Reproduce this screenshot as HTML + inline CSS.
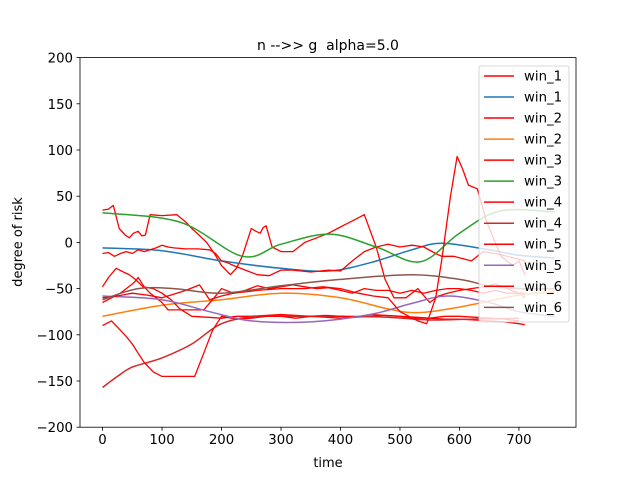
<!DOCTYPE html>
<html><head><meta charset="utf-8"><style>
body{margin:0;background:#fff}
svg{display:block;font-family:"DejaVu Sans","Liberation Sans",sans-serif}
</style></head><body>
<svg id="chart" width="640" height="480" viewBox="0 0 640 480" xmlns="http://www.w3.org/2000/svg">
<rect width="640" height="480" fill="#fff"/>
<text x="328" y="50" font-size="14" text-anchor="middle" style="white-space:pre">n --&gt;&gt; g&#160;&#160;alpha=5.0</text>
<text x="328" y="467" font-size="13" text-anchor="middle">time</text>
<text transform="translate(22,242) rotate(-90)" font-size="13" text-anchor="middle">degree of risk</text>
<g id="plot"></g>
<g id="axes"></g>
<g id="legend"></g>
</svg>
<script>
const xTicks=[0,100,200,300,400,500,600,700];
const yTicks=[-200,-150,-100,-50,0,50,100,150,200];
const seriesNames=["win_1","win_1","win_2","win_2","win_3","win_3","win_4","win_4","win_5","win_5","win_6","win_6"];
const seriesColors=["#ff0000","#1f77b4","#ff0000","#ff7f0e","#ff0000","#2ca02c","#ff0000","#d62728","#ff0000","#9467bd","#ff0000","#8c564b"];
// red noisy series
const r1X=[0,10,18,28,38,45,52,60,66,72,80,100,125,140,150,162,175,188,200,215,225,235,245,250,258,265,270,275,285,300,320,330,340,360,380,395,410,425,440,460,475,490,510,530,550,565,580,600,620,640,660,680,700,710];
const r1Y=[35,36,40,15,8,5,10,12,7,8,30,29,30,22,15,8,0,-12,-25,-35,-28,-15,5,15,12,10,16,18,-5,-10,-10,-5,0,5,10,15,20,25,30,-5,-40,-60,-60,-50,-65,-58,-55,-52,-50,-48,-45,-50,-55,-60];
const r2X=[0,10,20,30,40,50,60,70,80,90,100,110,120,140,160,180,190,200,210,220,240,260,280,300,320,350,380,400,420,440,460,480,500,520,540,560,570,590,620,640,660,680,710];
const r2Y=[-12,-11,-15,-12,-10,-12,-8,-10,-8,-6,-3,-5,-6,-7,-7,-8,-12,-20,-22,-25,-30,-35,-36,-30,-30,-32,-30,-31,-20,-10,-5,-2,-5,-3,-5,-12,-15,-15,-20,-10,-12,-15,-20];
const r3X=[0,10,23,35,45,55,68,85,100,115,130,150,175,200,225,250,275,300,325,350,375,400,425,450,475,500,525,550,575,600,625,650,675,700,710];
const r3Y=[-48,-38,-28,-32,-35,-40,-48,-50,-55,-62,-72,-80,-81,-82,-80,-80,-79,-78,-79,-80,-81,-82,-81,-80,-79,-80,-81,-82,-83,-83,-84,-85,-86,-88,-89];
const r4X=[0,15,30,40,50,55,60,70,80,90,100,110,130,170,185,200,220,240,260,280,300,320,340,360,380,400,420,440,460,480,500,520,540,560,580,600,620,640,660,680,710];
const r4Y=[-65,-60,-55,-50,-45,-42,-38,-48,-55,-60,-65,-73,-73,-73,-62,-50,-55,-52,-47,-50,-48,-46,-48,-50,-49,-52,-55,-50,-52,-52,-55,-52,-55,-52,-50,-50,-52,-55,-52,-55,-55];
const r5X=[0,15,30,40,50,60,70,85,100,155,170,185,200,225,250,275,300,325,350,375,400,425,450,475,500,525,550,575,600,625,650,675,700];
const r5Y=[-90,-85,-95,-102,-110,-120,-130,-140,-145,-145,-120,-95,-80,-83,-82,-80,-80,-82,-80,-79,-80,-81,-78,-79,-80,-82,-82,-80,-80,-81,-82,-83,-85];
const r6X=[0,25,50,75,100,120,140,163,180,200,220,260,300,340,370,400,430,455,480,500,515,530,545,560,570,585,596,605,615,630,646,660,670,690,700,710];
const r6Y=[-60,-58,-55,-57,-60,-56,-52,-46,-62,-58,-55,-52,-50,-50,-48,-50,-55,-58,-60,-75,-80,-85,-88,-60,-20,50,93,80,62,58,22,0,-15,-25,-20,-35];
// smooth series
const bX=[0,100,200,300,380,450,520,570,650,700,760];
const bY=[-6,-9,-20,-28,-31,-22,-8,-1,-8,-14,-17];
const gX=[0,130,235,300,382,460,534,600,668,760];
const gY=[32,22,-15,-2,9,-5,-21,10,34,33];
const oX=[0,100,200,300,400,480,530,600,700,760];
const oY=[-80,-68,-62,-55,-60,-72,-76,-70,-57,-54];
const pX=[0,100,180,250,350,450,520,580,650,700,760];
const pY=[-58,-62,-75,-85,-86,-78,-66,-58,-65,-75,-80];
const nX=[0,60,120,200,300,400,520,600,650,700,760];
const nY=[-62,-50,-50,-55,-47,-40,-35,-40,-47,-50,-50];
const dX=[0,25,50,100,150,200,260,330,400,480,550,620,700];
const dY=[-157,-145,-135,-125,-110,-88,-80,-80,-80,-81,-84,-83,-82];

const L=80,R=576,T=57.6,B=427.2;
const xmin=-37.9,xmax=795.9,ymin=-200,ymax=200;
const sx=v=>L+(v-xmin)/(xmax-xmin)*(R-L);
const sy=v=>B-(v-ymin)/(ymax-ymin)*(B-T);
const NS="http://www.w3.org/2000/svg";
function mk(tag,attrs,parent){const e=document.createElementNS(NS,tag);for(const k in attrs)e.setAttribute(k,attrs[k]);parent.appendChild(e);return e;}
const plot=document.getElementById('plot'),axes=document.getElementById('axes'),leg=document.getElementById('legend');
function line(xs,ys,color,name,smooth){
  const P=xs.map((x,i)=>[sx(x),sy(ys[i])]);
  let d='M'+P[0][0].toFixed(1)+','+P[0][1].toFixed(1);
  for(let i=1;i<P.length;i++){
    if(smooth){
      const p0=P[Math.max(0,i-2)],p1=P[i-1],p2=P[i],p3=P[Math.min(P.length-1,i+1)];
      const c1=[p1[0]+(p2[0]-p0[0])/6,p1[1]+(p2[1]-p0[1])/6];
      const c2=[p2[0]-(p3[0]-p1[0])/6,p2[1]-(p3[1]-p1[1])/6];
      d+=' C'+c1[0].toFixed(1)+','+c1[1].toFixed(1)+' '+c2[0].toFixed(1)+','+c2[1].toFixed(1)+' '+p2[0].toFixed(1)+','+p2[1].toFixed(1);
    } else d+=' L'+P[i][0].toFixed(1)+','+P[i][1].toFixed(1);
  }
  const p=mk('path',{d:d,fill:'none',stroke:color,'stroke-width':smooth?1.5:1.3,'stroke-linejoin':'round'},plot);
  
  
}
line(r1X,r1Y,'#ff0000','series-win1-raw',false);
line(bX,bY,'#1f77b4','series-win1-smooth',true);
line(r2X,r2Y,'#ff0000','series-win2-raw',false);
line(oX,oY,'#ff7f0e','series-win2-smooth',true);
line(r3X,r3Y,'#ff0000','series-win3-raw',false);
line(gX,gY,'#2ca02c','series-win3-smooth',true);
line(r4X,r4Y,'#ff0000','series-win4-raw',false);
line(dX,dY,'#d62728','series-win4-smooth',true);
line(r5X,r5Y,'#ff0000','series-win5-raw',false);
line(pX,pY,'#9467bd','series-win5-smooth',true);
line(r6X,r6Y,'#ff0000','series-win6-raw',false);
line(nX,nY,'#8c564b','series-win6-smooth',true);
const frame=mk('rect',{x:L,y:T,width:R-L,height:B-T,fill:'none',stroke:'#000','stroke-width':0.8},axes);


xTicks.forEach(v=>{
  const x=sx(v);
  const t=mk('line',{x1:x,x2:x,y1:B,y2:B+3.5,stroke:'#000','stroke-width':0.8},axes);
  
  
  const tx=mk('text',{x:x,y:B+17,'font-size':13.3,'text-anchor':'middle'},axes);
  tx.textContent=v;
  
  
});
yTicks.forEach(v=>{
  const y=sy(v);
  const t=mk('line',{x1:L-3.5,x2:L,y1:y,y2:y,stroke:'#000','stroke-width':0.8},axes);
  
  
  const tx=mk('text',{x:L-7,y:y+5,'font-size':13.3,'text-anchor':'end'},axes);
  tx.textContent=(v<0?'\u2212'+(-v):v);
  
  
});
const box=mk('rect',{x:479,y:66,width:90,height:256,rx:2,fill:'#fff','fill-opacity':0.8,stroke:'#ccc','stroke-width':0.8},leg);


seriesNames.forEach((n,i)=>{
  const y=76+i*21.03;
  const l=mk('line',{x1:484,x2:514,y1:y,y2:y,stroke:seriesColors[i],'stroke-width':1.5},leg);
  
  
  const t=mk('text',{x:524,y:y+4.5,'font-size':13.3},leg);
  t.textContent=n;
  
  
});
</script>
</body></html>
